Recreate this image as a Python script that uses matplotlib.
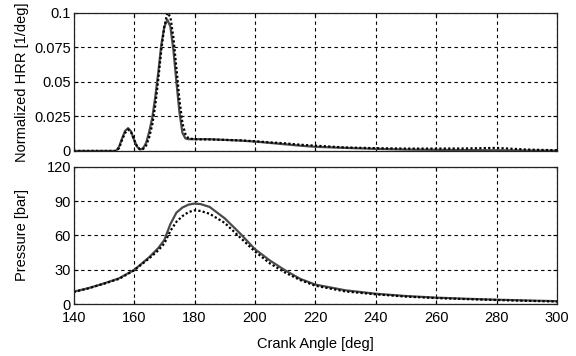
import matplotlib
matplotlib.use("Agg")
import matplotlib.pyplot as plt

plt.rcParams['font.family'] = ['Liberation Sans', 'DejaVu Sans']

# Heat release rate data
hrr_angle = [140, 150, 154, 155, 156, 157, 158, 159, 160, 161, 162, 163, 164, 165,
             166, 167, 168, 169, 170, 171, 172, 173, 174, 175, 176, 177, 178, 180,
             185, 190, 195, 200, 205, 210, 215, 220, 230, 240, 250, 260, 270, 280,
             290, 300]
hrr_solid = [0, 0, 0, 0.003, 0.009, 0.0145, 0.0165, 0.014, 0.008, 0.003, 0.001, 0.002,
             0.006, 0.014, 0.024, 0.039, 0.057, 0.077, 0.090, 0.095, 0.090, 0.073,
             0.050, 0.028, 0.013, 0.009, 0.0085, 0.0085, 0.0085, 0.008, 0.0075, 0.0068,
             0.0058, 0.0048, 0.0038, 0.003, 0.0022, 0.0015, 0.001, 0.0008, 0.0006,
             0.0005, 0.0003, 0.0002]
hrr_dotted = [0, 0, 0, 0.002, 0.008, 0.013, 0.0155, 0.0135, 0.008, 0.003, 0.001, 0.0015,
              0.004, 0.010, 0.019, 0.033, 0.052, 0.073, 0.090, 0.100, 0.097, 0.082,
              0.060, 0.037, 0.020, 0.012, 0.009, 0.0085, 0.0083, 0.008, 0.0077, 0.007,
              0.0062, 0.0055, 0.0045, 0.0038, 0.0025, 0.002, 0.0017, 0.0017, 0.0018,
              0.0022, 0.001, 0.0005]

# Pressure data
p_angle = [140, 145, 150, 155, 160, 165, 168, 170, 172, 174, 176, 178, 180, 182, 185,
           190, 195, 200, 205, 210, 215, 220, 230, 240, 250, 260, 270, 280, 290, 300]
p_solid = [10.8, 14, 18, 22.5, 29.8, 41, 49, 56, 70, 80, 84.5, 87, 88, 87.5, 85,
           75, 62, 48, 38, 29.5, 22, 17, 12, 9, 7, 5.6, 4.6, 3.8, 3.1, 2.5]
p_dotted = [10.5, 13.8, 17.8, 22, 29.5, 40, 47, 53, 64, 72, 77, 80.5, 82, 81.5, 79,
            71, 58.5, 46, 35.5, 27.5, 21, 16, 11, 8.5, 6.5, 5.2, 4.3, 3.5, 2.8, 2.2]

xticks = [140, 160, 180, 200, 220, 240, 260, 280, 300]
hrr_ticks = [0, 0.025, 0.05, 0.075, 0.1]
hrr_ticklabels = ['0', '0.025', '0.05', '0.075', '0.1']
p_ticks = [0, 30, 60, 90, 120]

fig = plt.figure(figsize=(5.76, 3.56), dpi=100)
ax1 = fig.add_axes([0.128, 0.576, 0.839, 0.388])
ax2 = fig.add_axes([0.128, 0.146, 0.839, 0.385])

solid_color = '#4a4a4a'
fs = 10.5

for ax in (ax1, ax2):
    ax.set_xlim(140, 300)
    ax.set_xticks(xticks)
    ax.grid(True, color='black', linestyle=(0, (3, 3)), linewidth=0.8)
    ax.tick_params(direction='in', length=3, top=True, right=True,
                   labelsize=fs, colors='black', pad=2)
    for s in ax.spines.values():
        s.set_linewidth(0.9)
        s.set_color('#222222')

ax2.tick_params(axis='x', pad=5)

ax1.plot(hrr_angle, hrr_solid, color=solid_color, linewidth=1.6)
ax1.plot(hrr_angle, hrr_dotted, color='black', linestyle=(0, (1, 1)), linewidth=1.6)
ax1.set_ylim(0, 0.1)
ax1.set_yticks(hrr_ticks)
ax1.set_yticklabels(hrr_ticklabels)
ax1.set_xticklabels([])
ax1.set_ylabel('Normalized HRR [1/deg]', fontsize=fs)

ax2.plot(p_angle, p_solid, color=solid_color, linewidth=1.6)
ax2.plot(p_angle, p_dotted, color='black', linestyle=(0, (1, 1)), linewidth=1.6)
ax2.set_ylim(0, 120)
ax2.set_yticks(p_ticks)
ax2.set_ylabel('Pressure [bar]', fontsize=fs)
ax2.set_xlabel('Crank Angle [deg]', fontsize=fs, labelpad=9)

ax1.yaxis.set_label_coords(-0.093, 0.5)
ax2.yaxis.set_label_coords(-0.093, 0.5)

fig.savefig('out.png', dpi=100)
